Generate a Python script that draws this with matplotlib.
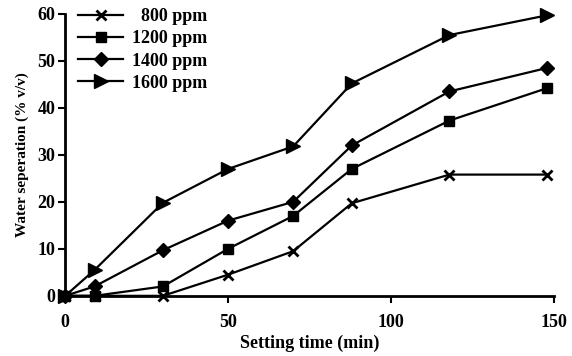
import matplotlib
matplotlib.use("Agg")
import matplotlib.pyplot as plt

time = [0, 9, 30, 50, 70, 88, 118, 148]
s800 = [0, 0, 0, 4.5, 9.5, 19.7, 25.8, 25.8]
s1200 = [0, 0, 2, 10, 17, 27, 37.3, 44.2]
s1400 = [0, 2, 9.7, 16, 20, 32, 43.5, 48.5]
s1600 = [0, 5.5, 19.8, 27, 31.8, 45.2, 55.5, 59.7]
labels = ["  800 ppm", "1200 ppm", "1400 ppm", "1600 ppm"]
xticks = [0, 50, 100, 150]
yticks = [0, 10, 20, 30, 40, 50, 60]

plt.rcParams['font.family'] = ['Liberation Serif', 'DejaVu Serif']
plt.rcParams['font.weight'] = 'bold'

fig = plt.figure(figsize=(5.72, 3.56), dpi=100)
ax = fig.add_axes([0.114, 0.169, 0.854, 0.792])

series = [s800, s1200, s1400, s1600]
markers = ['x', 's', 'D', '>']
msizes = [7.5, 7.5, 7.5, 9.5]
for s, m, ms, lab in zip(series, markers, msizes, labels):
    ax.plot(time, s, color='black', lw=1.6, marker=m, markersize=ms,
            markeredgewidth=2 if m == 'x' else 1, clip_on=False, label=lab)

ax.set_xlim(0, 150)
ax.set_ylim(0, 60)
ax.set_xticks(xticks)
ax.set_yticks(yticks)
for sp in ['top', 'right']:
    ax.spines[sp].set_visible(False)
for sp in ['left', 'bottom']:
    ax.spines[sp].set_linewidth(2)
ax.tick_params(width=1.5, length=5, labelsize=13)
ax.tick_params(axis='x', pad=8)
ax.tick_params(axis='y', pad=2)
for t in ax.get_xticklabels() + ax.get_yticklabels():
    t.set_fontweight('bold')
ax.set_xlabel('Setting time (min)', fontsize=13, fontweight='bold', labelpad=3)
ax.set_ylabel('Water seperation (% v/v)', fontsize=11, fontweight='bold', labelpad=6)

leg = ax.legend(loc='upper left', bbox_to_anchor=(0.012, 1.045), frameon=False,
                fontsize=13, handlelength=2.5, handletextpad=0.45,
                labelspacing=0.28, borderaxespad=0)
for t in leg.get_texts():
    t.set_fontweight('bold')

fig.savefig('out.png', dpi=100)
